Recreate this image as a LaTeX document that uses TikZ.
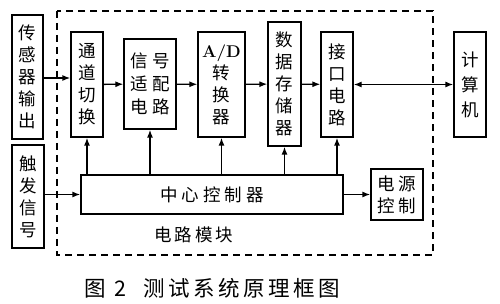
\documentclass[tikz,border=0pt]{standalone}
\usepackage{fontspec}
\usepackage{tikz}
\usetikzlibrary{positioning,calc,arrows.meta}
\newfontfamily\cjk{Noto Sans CJK SC}

\begin{document}
\begin{tikzpicture}[x=1pt,y=-1pt]
            \tikzset{
                block/.style={
                    draw,
                    line width=1.3pt,
                    inner sep=0pt,
                    align=center,
                    font=\cjk\fontsize{17.5}{22}\selectfont
                }
            }
            \tikzset{
                link/.style={
                    line width=1.3pt,
                    -{Latex[length=8pt,width=6pt]}
                }
            }
            \tikzset{
                frame/.style={
                    line width=1.3pt,
                    dash pattern=on 7pt off 5pt
                }
            }
            \useasboundingbox (0,0) rectangle (500,304);

            \draw[frame] (57,11) rectangle (433,255);

            \node[block, minimum width=31pt, minimum height=124pt] (sensor) at (27.5,77) {传\\感\\器\\输\\出};
            \node[block, minimum width=32pt, minimum height=103pt] (trigger) at (28,196.5) {触\\发\\信\\号};

            \node[block, minimum width=32pt, minimum height=105pt] (chan) at (87,84.5) {通\\道\\切\\换};
            \node[block, minimum width=52pt, minimum height=90pt, font=\cjk\fontsize{17.5}{23}\selectfont] (adapt) at (150,84) {信\hspace{5pt}号\\适\hspace{5pt}配\\电\hspace{5pt}路};
            \node[block, minimum width=47pt, minimum height=105pt] (ad) at (221.5,84.5) {{\rmfamily\bfseries\fontsize{17}{22}\selectfont A/D}\\转\\换\\器};
            \node[block, minimum width=33pt, minimum height=124pt] (store) at (284.5,84) {数\\据\\存\\储\\器};
            \node[block, minimum width=32pt, minimum height=105pt] (iface) at (337,84.5) {接\\口\\电\\路};
            \node[block, minimum width=32pt, minimum height=105pt, font=\cjk\fontsize{17.5}{25}\selectfont] (pc) at (470,84.5) {计\\算\\机};

            \node[block, minimum width=262pt, minimum height=39pt] (ctrl) at (212,194.5) {中\hspace{4pt}心\hspace{4pt}控\hspace{4pt}制\hspace{4pt}器};
            \node[block, minimum width=52pt, minimum height=51pt] (power) at (397,194.5) {电\hspace{4pt}源\\控\hspace{4pt}制};

            \node[font=\cjk\fontsize{17.5}{22}\selectfont] (module) at (194,235) {电\hspace{3pt}路\hspace{3pt}模\hspace{3pt}块};
            \node[font=\cjk\fontsize{21.5}{24}\selectfont] (caption) at (212.5,288) {图\hspace{8pt}2\hspace{18pt}测\hspace{3.5pt}试\hspace{3.5pt}系\hspace{3.5pt}统\hspace{3.5pt}原\hspace{3.5pt}理\hspace{3.5pt}框\hspace{3.5pt}图};

            \draw[link] (sensor.east |- 0,78) -- (chan.west |- 0,78);
            \draw[link] (chan) -- (adapt);
            \draw[link] (adapt) -- (ad);
            \draw[link] (ad) -- (store);
            \draw[link] (store) -- (iface);
            \draw[link, {Latex[length=8pt,width=6pt]}-{Latex[length=8pt,width=6pt]}] (iface) -- (pc);

            \draw[link] (ctrl.north -| chan) -- (chan.south);
            \draw[link] (ctrl.north -| adapt) -- (adapt.south);
            \draw[link] (ctrl.north -| ad) -- (ad.south);
            \draw[link] (ctrl.north -| store) -- (store.south);
            \draw[link] (ctrl.north -| iface) -- (iface.south);

            \draw[link] (trigger.east |- ctrl.west) -- (ctrl.west);
            \draw[link] (ctrl.east) -- (power.west);
\end{tikzpicture}
\end{document}
